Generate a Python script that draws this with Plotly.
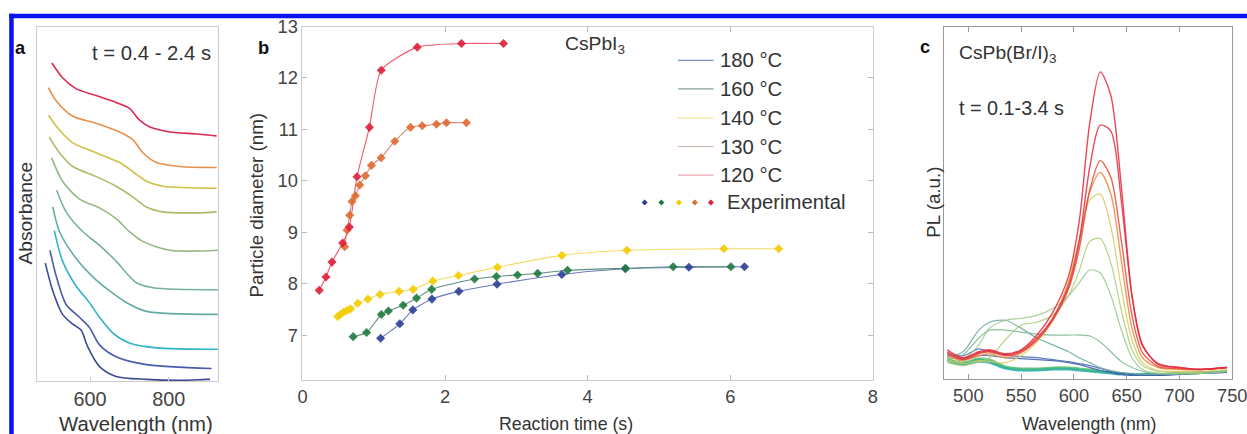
import plotly.graph_objects as go

# ---------------- Panel a: absorbance spectra (stacked, arbitrary units) ----------------
a_wl = [
    [486, 505, 530, 556, 577, 594, 624, 666, 743, 828, 896, 905],
    [498, 513, 539, 573, 598, 624, 666, 743, 909],
    [509, 530, 564, 598, 624, 658, 700, 769, 925],
    [505, 522, 564, 615, 649, 692, 743, 925],
    [515, 539, 581, 624, 666, 718, 760, 925],
    [502, 530, 573, 624, 666, 700, 734, 803, 925],
    [496, 522, 556, 615, 666, 709, 743, 785, 871, 922],
    [494, 522, 556, 615, 675, 718, 743, 785, 922],
    [494, 513, 556, 615, 675, 709, 734, 769, 828, 922],
    [503, 530, 564, 615, 666, 700, 726, 752, 803, 871, 922],
]
a_abs = [
    [1.20, 0.92, 0.68, 0.58, 0.52, 0.35, 0.15, 0.05, 0.02, 0.01, 0.02, 0.02],
    [1.33, 1.08, 0.78, 0.65, 0.55, 0.37, 0.25, 0.17, 0.13],
    [1.53, 1.22, 0.97, 0.80, 0.65, 0.49, 0.39, 0.34, 0.325],
    [1.77, 1.52, 1.25, 1.03, 0.92, 0.80, 0.71, 0.68],
    [1.94, 1.72, 1.52, 1.38, 1.22, 1.00, 0.95, 0.93],
    [2.27, 2.03, 1.85, 1.76, 1.65, 1.52, 1.42, 1.33, 1.33],
    [2.48, 2.32, 2.18, 2.08, 1.98, 1.87, 1.77, 1.72, 1.71, 1.72],
    [2.70, 2.55, 2.42, 2.32, 2.22, 2.10, 2.03, 1.98, 1.96],
    [2.98, 2.85, 2.69, 2.62, 2.53, 2.45, 2.32, 2.22, 2.18, 2.17],
    [3.23, 3.08, 2.97, 2.90, 2.83, 2.77, 2.65, 2.58, 2.53, 2.51, 2.49],
]
a_colors = ['#3c4a92', '#4a5caa', '#2fb4c8', '#62aca6', '#78b296', '#96b882',
            '#a9bd68', '#cdc24a', '#e8904a', '#dc2a52']

# ---------------- Panel b: particle diameter vs reaction time ----------------
temps = ['180 °C', '160 °C', '140 °C', '130 °C', '120 °C']
t_180 = [1.096, 1.365, 1.548, 1.816, 2.193, 2.729, 3.638, 4.53, 5.42, 6.2]
d_180 = [6.94, 7.22, 7.49, 7.70, 7.85, 7.99, 8.18, 8.29, 8.32, 8.33]
t_160 = [0.711, 0.899, 1.106, 1.205, 1.412, 1.60, 1.812, 2.414, 2.72, 3.016, 3.299, 3.718, 4.53, 5.2, 6.01]
d_160 = [6.97, 7.05, 7.40, 7.47, 7.58, 7.72, 7.89, 8.09, 8.14, 8.17, 8.20, 8.26, 8.30, 8.33, 8.33]
t_140 = [0.494, 0.532, 0.579, 0.626, 0.673, 0.776, 0.918, 1.087, 1.355, 1.553, 1.826, 2.188, 2.734, 3.638, 4.55, 5.91, 6.68]
d_140 = [7.36, 7.40, 7.45, 7.48, 7.51, 7.62, 7.70, 7.79, 7.85, 7.89, 8.05, 8.16, 8.32, 8.55, 8.65, 8.68, 8.68]
t_130 = [0.591, 0.625, 0.662, 0.695, 0.742, 0.803, 0.883, 0.967, 1.103, 1.295, 1.516, 1.68, 1.88, 2.02, 2.30]
d_130 = [8.72, 9.04, 9.33, 9.60, 9.71, 9.92, 10.10, 10.30, 10.45, 10.77, 11.04, 11.07, 11.10, 11.13, 11.13]
t_120 = [0.235, 0.329, 0.414, 0.563, 0.657, 0.765, 0.939, 1.105, 1.61, 2.23, 2.82]
d_120 = [7.87, 8.13, 8.42, 8.79, 9.10, 10.08, 11.04, 12.15, 12.60, 12.67, 12.67]
b_times = [t_180, t_160, t_140, t_130, t_120]
b_diams = [d_180, d_160, d_140, d_130, d_120]
b_line_colors = ['#6a78bc', '#5f8f7c', '#f3dc66', '#d88878', '#ec5a6c']
b_leg_colors = ['#8090cc', '#8aa49a', '#f7e89c', '#cdb0a8', '#f2aab4']
b_mark_colors = ['#2e3f96', '#1f7a40', '#f2cc00', '#e06a30', '#dd1f3a']

# ---------------- Panel c: PL spectra ----------------
c_wl = [480, 495, 510, 520, 535, 550, 565, 580, 595, 605, 615, 625, 635, 645, 655, 665, 680, 700, 720, 745]
c_pl = [
    [0.21, 0.17, 0.21, 0.20, 0.13, 0.11, 0.11, 0.12, 0.12, 0.11, 0.10, 0.08, 0.07, 0.06, 0.05, 0.05, 0.05, 0.06, 0.07, 0.08],
    [0.20, 0.16, 0.20, 0.18, 0.12, 0.10, 0.10, 0.11, 0.11, 0.10, 0.09, 0.08, 0.07, 0.06, 0.05, 0.05, 0.05, 0.06, 0.07, 0.08],
    [0.19, 0.15, 0.18, 0.17, 0.11, 0.09, 0.09, 0.10, 0.10, 0.09, 0.08, 0.07, 0.06, 0.05, 0.05, 0.05, 0.05, 0.06, 0.07, 0.08],
    [0.25, 0.20, 0.24, 0.24, 0.22, 0.21, 0.20, 0.19, 0.17, 0.15, 0.12, 0.09, 0.07, 0.05, 0.04, 0.04, 0.04, 0.05, 0.06, 0.07],
    [0.26, 0.24, 0.31, 0.28, 0.25, 0.23, 0.22, 0.20, 0.18, 0.16, 0.14, 0.11, 0.08, 0.06, 0.05, 0.05, 0.05, 0.05, 0.06, 0.07],
    [0.22, 0.28, 0.50, 0.58, 0.60, 0.52, 0.42, 0.35, 0.28, 0.22, 0.17, 0.12, 0.09, 0.07, 0.06, 0.05, 0.05, 0.05, 0.06, 0.08],
    [0.20, 0.25, 0.42, 0.50, 0.50, 0.48, 0.46, 0.45, 0.45, 0.45, 0.44, 0.38, 0.28, 0.18, 0.12, 0.08, 0.06, 0.06, 0.06, 0.08],
    [0.18, 0.20, 0.35, 0.52, 0.60, 0.62, 0.65, 0.72, 0.85, 0.98, 1.11, 1.08, 0.85, 0.50, 0.22, 0.10, 0.06, 0.06, 0.06, 0.08],
    [0.17, 0.14, 0.18, 0.22, 0.40, 0.55, 0.58, 0.65, 0.85, 1.10, 1.40, 1.43, 1.18, 0.70, 0.30, 0.14, 0.08, 0.07, 0.07, 0.09],
    [0.20, 0.16, 0.19, 0.18, 0.17, 0.24, 0.38, 0.60, 1.00, 1.42, 1.82, 1.88, 1.55, 0.92, 0.40, 0.17, 0.09, 0.08, 0.08, 0.10],
    [0.24, 0.19, 0.24, 0.26, 0.22, 0.27, 0.40, 0.62, 0.98, 1.40, 1.90, 2.10, 1.88, 1.20, 0.52, 0.22, 0.12, 0.10, 0.10, 0.12],
    [0.26, 0.20, 0.26, 0.28, 0.24, 0.28, 0.40, 0.60, 0.92, 1.32, 1.92, 2.22, 2.05, 1.40, 0.65, 0.27, 0.13, 0.11, 0.10, 0.12],
    [0.28, 0.21, 0.27, 0.29, 0.25, 0.29, 0.42, 0.62, 0.95, 1.40, 2.15, 2.58, 2.52, 1.80, 0.85, 0.35, 0.15, 0.12, 0.10, 0.12],
    [0.30, 0.22, 0.28, 0.30, 0.26, 0.30, 0.45, 0.68, 1.05, 1.60, 2.60, 3.12, 2.88, 1.95, 0.85, 0.34, 0.16, 0.12, 0.10, 0.12],
]
c_colors = ['#58c070', '#40b880', '#30b0a8', '#3858a8', '#4868b0', '#68a8a0', '#78b890',
            '#98c888', '#a8cc70', '#d8c858', '#ec8a3a', '#e84a3a', '#e23040', '#e8283c']
c_widths = [2.2, 2.2, 2.2, 1.2, 1.2, 1.2, 1.2, 1.2, 1.2, 1.2, 1.4, 1.4, 1.4, 1.4]

# page size and mapping from target-image pixels to page pixels (photographing offset/scale)
PW, PH = 1272, 434
SX, OX, SY, OY = 0.981, 5.8, 0.989, 9.2
FS = 1 / 0.985


def fx(p):
    return ((p - OX) / SX) / PW


def fy(p):
    return 1 - ((p - OY) / SY) / PH


fig = go.Figure()

for wl, ab, col in zip(a_wl, a_abs, a_colors):
    fig.add_trace(go.Scatter(x=wl, y=ab, mode='lines', line=dict(color=col, width=1.6, shape='spline', smoothing=0.8),
                             xaxis='x', yaxis='y', showlegend=False, hoverinfo='skip'))

for t, d, lc in zip(b_times, b_diams, b_line_colors):
    fig.add_trace(go.Scatter(x=t, y=d, mode='lines', line=dict(color=lc, width=1.1, shape='spline', smoothing=0.6),
                             xaxis='x2', yaxis='y2', showlegend=False, hoverinfo='skip'))
for t, d, mc in zip(b_times, b_diams, b_mark_colors):
    fig.add_trace(go.Scatter(x=t, y=d, mode='markers', marker=dict(symbol='diamond', size=7, color=mc, opacity=0.9),
                             xaxis='x2', yaxis='y2', showlegend=False, hoverinfo='skip'))

for pl, col, lw in zip(c_pl, c_colors, c_widths):
    fig.add_trace(go.Scatter(x=c_wl, y=pl, mode='lines', line=dict(color=col, width=lw, shape='spline', smoothing=0.8),
                             opacity=0.85, xaxis='x3', yaxis='y3', showlegend=False, hoverinfo='skip'))

FONT = 'Liberation Sans, Arial, Helvetica, sans-serif'
TXT = '#333333'

common = dict(showgrid=False, zeroline=False, showline=True)
fig.update_layout(
    width=PW, height=PH, margin=dict(l=0, r=0, t=0, b=0),
    paper_bgcolor='white', plot_bgcolor='white',
    font=dict(family=FONT, color=TXT),
    xaxis=dict(domain=[fx(37.7), fx(218)], range=[465, 925], anchor='y', mirror=True, linecolor='#cccccc',
               ticks='inside', ticklen=4, tickcolor='#cccccc', tickvals=[600, 800],
               tickfont=dict(size=19.5 * FS, color='#444'), **common),
    yaxis=dict(domain=[fy(385), fy(25)], range=[0, 3.6], anchor='x', mirror=True, linecolor='#cccccc',
               showticklabels=False, ticks='', **common),
    xaxis2=dict(domain=[fx(302.3), fx(870.7)], range=[0, 8], anchor='y2', mirror='ticks', linecolor='#cccccc',
                ticks='inside', ticklen=5, tickcolor='#bbbbbb', tickvals=[0, 2, 4, 6, 8],
                tickfont=dict(size=18 * FS, color='#444'), **common),
    yaxis2=dict(domain=[fy(384), fy(25)], range=[6.12, 13], anchor='x2', mirror='ticks', linecolor='#cccccc',
                ticks='inside', ticklen=5, tickcolor='#bbbbbb', tickvals=[7, 8, 9, 10, 11, 12, 13],
                tickfont=dict(size=18 * FS, color='#444'), **common),
    xaxis3=dict(domain=[fx(941.7), fx(1229)], range=[477, 750], anchor='y3', mirror='ticks', linecolor='#999999',
                ticks='inside', ticklen=5, tickcolor='#999999', tickvals=[500, 550, 600, 650, 700, 750],
                tickfont=dict(size=18 * FS, color='#444'), **common),
    yaxis3=dict(domain=[fy(383), fy(25)], range=[0, 3.58], anchor='x3', mirror=True, linecolor='#999999',
                showticklabels=False, ticks='', **common),
)

shapes = [
    dict(type='rect', xref='paper', yref='paper', x0=fx(10), x1=1, y0=fy(16.5), y1=fy(12),
         fillcolor='#0814f0', line=dict(width=0), layer='above'),
    dict(type='rect', xref='paper', yref='paper', x0=fx(10), x1=fx(14.5), y0=0, y1=fy(12),
         fillcolor='#0814f0', line=dict(width=0), layer='above'),
    dict(type='rect', xref='paper', yref='paper', x0=fx(1245.5), x1=fx(1247), y0=0, y1=fy(12),
         fillcolor='#d4d8ff', line=dict(width=0), layer='above'),
]
annotations = []


def ann(text, x, y, size, xanchor='center', angle=0, bold=False, color=TXT):
    if bold:
        text = '<b>' + text + '</b>'
    annotations.append(dict(text=text, x=fx(x), y=fy(y), xref='paper', yref='paper', showarrow=False,
                            xanchor=xanchor, yanchor='middle', textangle=angle,
                            font=dict(size=size * FS, family=FONT, color=color)))


# panel a texts
ann('a', 21.5, 46, 18, bold=True, color='#111')
ann('t = 0.4 - 2.4 s', 213, 51.5, 20, xanchor='right')
ann('Absorbance', 26.5, 214, 19, angle=-90)
ann('Wavelength (nm)', 136, 428, 20)

# panel b texts
ann('b', 263.5, 46, 18, bold=True, color='#111')
ann('CsPbI<sub>3</sub>', 562, 44, 19, xanchor='left')
ann('Particle diameter (nm)', 256.5, 206, 18.5, angle=-90)
ann('Reaction time (s)', 565, 428, 17.5)

# panel b legend
leg_y = [59.3, 88.3, 117.7, 146.7, 175.7]
for name, yy, col in zip(temps, leg_y, b_leg_colors):
    shapes.append(dict(type='line', xref='paper', yref='paper', x0=fx(676.5), x1=fx(712), y0=fy(yy), y1=fy(yy),
                       line=dict(color=col, width=1.2)))
    ann(name, 716.5, yy, 20, xanchor='left')
exp_x = [643.3, 660, 677.5, 693.3, 709.3]
for xx, col in zip(exp_x, b_mark_colors):
    shapes.append(dict(type='path', xref='paper', yref='paper', xsizemode='pixel', ysizemode='pixel',
                       xanchor=fx(xx), yanchor=fy(203.5), path='M -3 0 L 0 3 L 3 0 L 0 -3 Z',
                       fillcolor=col, line=dict(width=0)))
ann('Experimental', 723.5, 203.5, 20, xanchor='left')

# panel c texts
ann('c', 923, 45, 18, bold=True, color='#111')
ann('CsPb(Br/I)<sub>3</sub>', 955, 53, 19, xanchor='left')
ann('t = 0.1-3.4 s', 955, 108, 19.5, xanchor='left')
ann('PL (a.u.)', 931.5, 203, 18.5, angle=-90)
ann('Wavelength (nm)', 1087, 428, 17.5)

fig.update_layout(shapes=shapes, annotations=annotations)
fig.write_html('out.html', config={'displayModeBar': False},
               post_script="document.documentElement.style.overflow='hidden';"
                           "document.body.style.margin='0';document.body.style.padding='0';"
                           "document.body.style.overflow='hidden';")
